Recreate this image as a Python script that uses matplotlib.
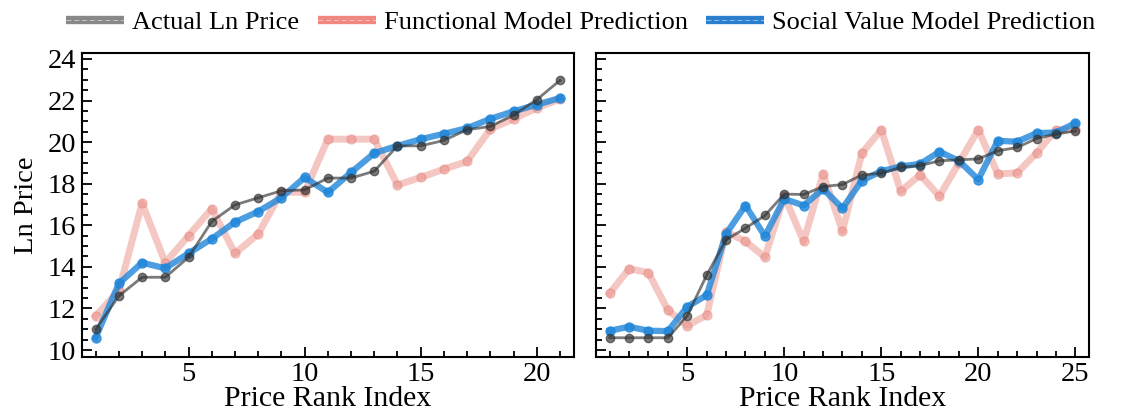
import matplotlib.pyplot as plt
from matplotlib.ticker import MultipleLocator
from matplotlib.lines import Line2D
from matplotlib.legend_handler import HandlerTuple

plt.rcParams['font.family'] = ['Liberation Serif', 'DejaVu Serif']

# left panel (21 items)
left_actual = [11.0, 12.6, 13.5, 13.5, 14.46, 16.18, 16.98, 17.32, 17.66, 17.7, 18.27,
               18.27, 18.6, 19.82, 19.82, 20.08, 20.6, 20.75, 21.3, 22.04, 22.97]
left_func = [11.64, 12.85, 17.06, 14.2, 15.5, 16.8, 14.65, 15.58, 17.6, 17.58, 20.14,
             20.14, 20.14, 17.94, 18.3, 18.7, 19.07, 20.63, 21.12, 21.64, 22.07]
left_social = [10.6, 13.2, 14.2, 13.93, 14.65, 15.35, 16.15, 16.66, 17.33, 18.3, 17.58,
               18.54, 19.47, 19.82, 20.14, 20.4, 20.67, 21.12, 21.48, 21.8, 22.12]

# right panel (25 items)
right_actual = [10.59, 10.59, 10.59, 10.59, 11.65, 13.6, 15.3, 15.86, 16.47, 17.5, 17.48,
                17.86, 17.96, 18.42, 18.5, 18.79, 18.87, 19.1, 19.15, 19.19, 19.58,
                19.74, 20.17, 20.38, 20.54]
right_func = [12.72, 13.91, 13.72, 11.92, 11.17, 11.68, 15.7, 15.22, 14.47, 17.4, 15.22,
              18.47, 15.72, 19.47, 20.59, 17.64, 18.42, 17.4, 19.0, 20.59, 18.47,
              18.52, 19.47, 20.59, 20.62]
right_social = [10.93, 11.12, 10.93, 10.91, 12.08, 12.64, 15.59, 16.95, 15.48, 17.27, 16.95,
                17.75, 16.82, 18.15, 18.6, 18.83, 18.95, 19.54, 19.1, 18.2, 20.06,
                20.02, 20.43, 20.46, 20.91]

c_actual = '#333333'
c_func = '#e8837a'
c_social = '#1f86d9'

fig = plt.figure(figsize=(11.21, 4.19), dpi=100)
ax1 = fig.add_axes([0.0729, 0.1487, 0.4391, 0.7241])
ax2 = fig.add_axes([0.5314, 0.1487, 0.4403, 0.7241], sharey=ax1)

for ax, actual, func, social in [(ax1, left_actual, left_func, left_social),
                                 (ax2, right_actual, right_func, right_social)]:
    x = range(1, len(actual) + 1)
    ax.plot(x, func, color=c_func, lw=5, alpha=0.45, marker='o', ms=6.5, zorder=1)
    ax.plot(x, social, color=c_social, lw=4.5, alpha=0.8, marker='o', ms=6.5, zorder=2)
    ax.plot(x, actual, color=c_actual, lw=2, alpha=0.65, marker='o', ms=6, zorder=3)
    ax.margins(x=0.03)
    ax.xaxis.set_major_locator(MultipleLocator(5))
    ax.xaxis.set_minor_locator(MultipleLocator(1))
    ax.yaxis.set_major_locator(MultipleLocator(2))
    ax.yaxis.set_minor_locator(MultipleLocator(0.5))
    ax.tick_params(which='both', direction='in', labelsize=20.5, width=1.3, pad=4)
    ax.tick_params(which='major', length=7)
    ax.tick_params(which='minor', length=4)
    for s in ax.spines.values():
        s.set_linewidth(1.5)
    ax.set_xlabel('Price Rank Index', fontsize=21.5, labelpad=-1)

ax1.set_ylim(9.68, 24.27)
ax1.set_ylabel('Ln Price', fontsize=20.5, labelpad=6)
ax2.tick_params(labelleft=False)

# legend handles: thick bar with a faint white streak
handles = []
for col in ['#888888', '#f08880', '#2a7fcf']:
    handles.append((Line2D([], [], color=col, lw=6, solid_capstyle='butt'),
                    Line2D([], [], color='white', lw=0.7, alpha=0.5, dashes=(5, 3))))
labels = ['Actual Ln Price', 'Functional Model Prediction', 'Social Value Model Prediction']
fig.legend(handles, labels, loc='center', bbox_to_anchor=(0.518, 0.947), ncol=3,
           frameon=False, fontsize=19, handlelength=2.2, handletextpad=0.3,
           columnspacing=0.7, borderaxespad=0,
           handler_map={tuple: HandlerTuple(ndivide=1, pad=0)})

fig.savefig('out.png', dpi=100)
